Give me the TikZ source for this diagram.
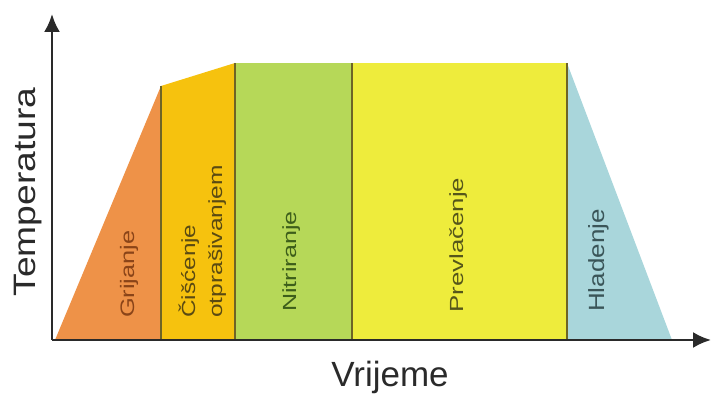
\documentclass[tikz,border=0pt]{standalone}
\usepackage{fontspec}
\setmainfont{Liberation Sans}
\usetikzlibrary{arrows.meta}
\definecolor{cOrange}{HTML}{EE9248}
\definecolor{cGold}{HTML}{F6C20E}
\definecolor{cGreen}{HTML}{B6D858}
\definecolor{cYellow}{HTML}{EEEC3C}
\definecolor{cBlue}{HTML}{A9D6DB}
\definecolor{cDiv}{HTML}{6E6426}
\definecolor{cAxis}{HTML}{2A2A2A}
\definecolor{tOrange}{HTML}{8A4418}
\definecolor{tGold}{HTML}{5A4A12}
\definecolor{tGreen}{HTML}{3D5E1A}
\definecolor{tYellow}{HTML}{55561A}
\definecolor{tBlue}{HTML}{3A5558}
\begin{document}
\begin{tikzpicture}[x=1pt,y=1pt,
  divider/.style={draw=cDiv,line width=1.3pt},
  axisline/.style={draw=cAxis,line width=2.4pt,-{Latex[length=18pt,width=16pt]}},
  phase/.style={rotate=90,anchor=base west,inner sep=0pt},
  axlabel/.style={text=cAxis,inner sep=0pt}]
\useasboundingbox (0,0) rectangle (712,396);
% fills
\fill[cOrange] (55,56) -- (161,310) -- (161,56) -- cycle;
\fill[cGold] (161,56) -- (161,310) -- (235,333) -- (235,56) -- cycle;
\fill[cGreen] (235,56) rectangle (352,333);
\fill[cYellow] (352,56) rectangle (567,333);
\fill[cBlue] (567,56) -- (567,333) -- (672,56) -- cycle;
% dividers
\coordinate (d1b) at (161,56); \coordinate (d1t) at (161,310);
\coordinate (d2b) at (235,56); \coordinate (d2t) at (235,333);
\coordinate (d3b) at (352,56); \coordinate (d3t) at (352,333);
\coordinate (d4b) at (567,56); \coordinate (d4t) at (567,333);
\draw[divider] (d1b) -- (d1t);
\draw[divider] (d2b) -- (d2t);
\draw[divider] (d3b) -- (d3t);
\draw[divider] (d4b) -- (d4t);
% axes
\coordinate (o) at (52,56);
\coordinate (ytip) at (52,382);
\coordinate (xtip) at (711,56);
\draw[axisline] (o) -- (ytip);
\draw[axisline] (o) -- (xtip);
% axis labels
\node[axlabel,rotate=90] (temp) at (28,204) {\fontsize{31}{31}\selectfont\scalebox{1.2}[1]{Temperatura}};
\node[axlabel,anchor=base] (time) at (390,9) {\fontsize{35}{35}\selectfont Vrijeme};
% phase labels
\node[phase,text=tOrange] (grij) at (134,78) {\fontsize{19.5}{19.5}\selectfont\scalebox{1.3}[1]{Grijanje}};
\node[phase,text=tGold] (cisc) at (195,78) {\fontsize{19}{19}\selectfont\scalebox{1.28}[1]{Čišćenje}};
\node[phase,text=tGold] (otpr) at (222,78) {\fontsize{19}{19}\selectfont\scalebox{1.29}[1]{otprašivanjem}};
\node[phase,text=tGreen] (nitr) at (296,84) {\fontsize{19}{19}\selectfont\scalebox{1.32}[1]{Nitriranje}};
\node[phase,text=tYellow] (prev) at (463,83) {\fontsize{19}{19}\selectfont\scalebox{1.36}[1]{Prevlačenje}};
\node[phase,text=tBlue] (hlad) at (604,84) {\fontsize{22}{22}\selectfont\scalebox{1.18}[1]{Hladenje}};
\end{tikzpicture}
\end{document}
